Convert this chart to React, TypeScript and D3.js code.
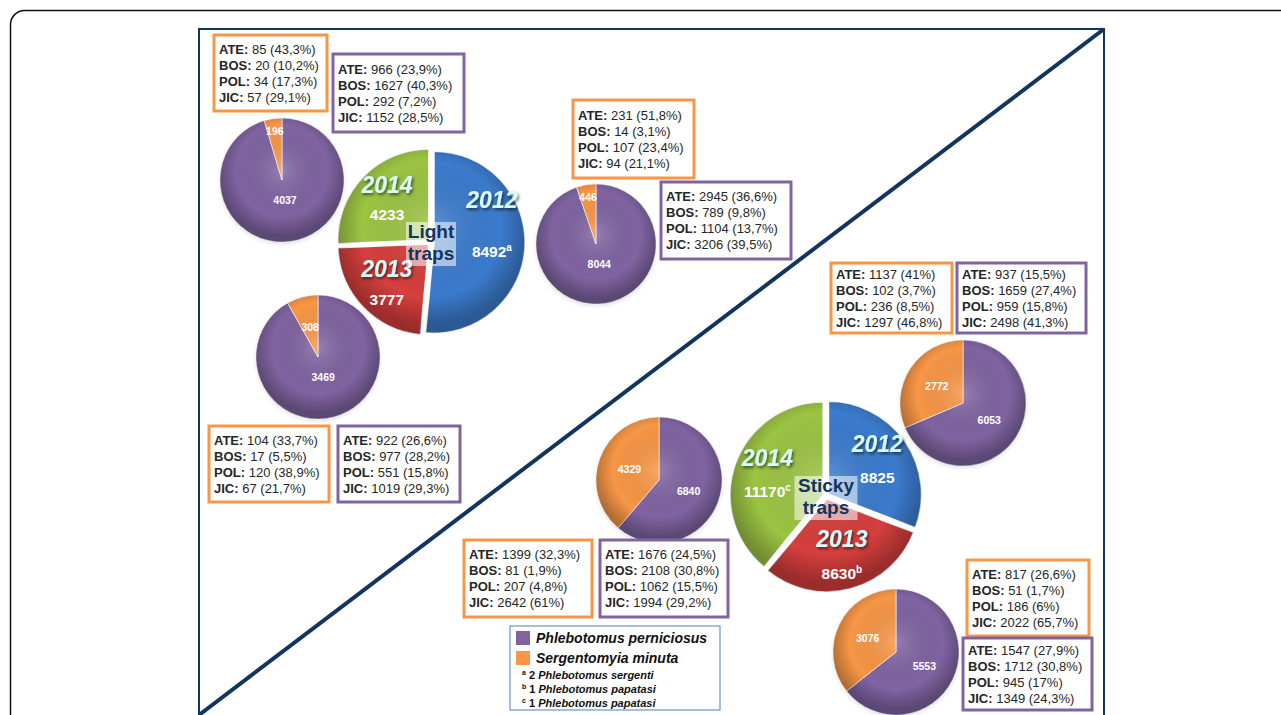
import React from 'react';
import * as d3 from 'd3';

const years = ['2012', '2013', '2014'];
const sites = ['ATE', 'BOS', 'POL', 'JIC'];

// totals per trap type (2012, 2013, 2014)
const lightTotals = [8492, 3777, 4233];
const lightNotes = ['a', '', ''];
const stickyTotals = [8825, 8630, 11170];
const stickyNotes = ['', 'b', 'c'];

// species split per year
const lightPerniciosus = [8044, 3469, 4037];
const lightMinuta = [446, 308, 196];
const stickyPerniciosus = [6053, 5553, 6840];
const stickyMinuta = [2772, 3076, 4329];

// per-site counts and shares per year
const lightMinutaSites = [[231, 14, 107, 94], [104, 17, 120, 67], [85, 20, 34, 57]];
const lightMinutaPct = [['51,8', '3,1', '23,4', '21,1'], ['33,7', '5,5', '38,9', '21,7'], ['43,3', '10,2', '17,3', '29,1']];
const lightPernSites = [[2945, 789, 1104, 3206], [922, 977, 551, 1019], [966, 1627, 292, 1152]];
const lightPernPct = [['36,6', '9,8', '13,7', '39,5'], ['26,6', '28,2', '15,8', '29,3'], ['23,9', '40,3', '7,2', '28,5']];
const stickyMinutaSites = [[1137, 102, 236, 1297], [817, 51, 186, 2022], [1399, 81, 207, 2642]];
const stickyMinutaPct = [['41', '3,7', '8,5', '46,8'], ['26,6', '1,7', '6', '65,7'], ['32,3', '1,9', '4,8', '61']];
const stickyPernSites = [[937, 1659, 959, 2498], [1547, 1712, 945, 1349], [1676, 2108, 1062, 1994]];
const stickyPernPct = [['15,5', '27,4', '15,8', '41,3'], ['27,9', '30,8', '17', '24,3'], ['24,5', '30,8', '15,5', '29,2']];

const speciesNames = ['Phlebotomus perniciosus', 'Sergentomyia minuta'];
const footnotes = [
  { mark: 'a', n: '2', name: 'Phlebotomus sergenti' },
  { mark: 'b', n: '1', name: 'Phlebotomus papatasi' },
  { mark: 'c', n: '1', name: 'Phlebotomus papatasi' },
];

const FONT = '"Liberation Sans", Arial, sans-serif';
const PURPLE = '#8064a2';
const ORANGE = '#f79646';
const yearColors = ['#3b7bcd', '#d63f3d', '#9cc443'];
const NAVY = '#12355f';

// layout
const lightMain = { cx: 431, cy: 242, r: 91, label: ['Light', 'traps'], boxW: 50, yearLift: [-30, 0, 0], valueLift: [-8, 0, 0], gap: 30 };
const stickyMain = { cx: 826, cy: 496, r: 93, label: ['Sticky', 'traps'], boxW: 63, yearLift: [0, 0, 0], valueLift: [0, 0, 0], gap: 34 };
const lightSmall = [{ cx: 596, cy: 244, r: 60 }, { cx: 318, cy: 357, r: 62 }, { cx: 282, cy: 180, r: 62 }];
const stickySmall = [{ cx: 963, cy: 403, r: 63 }, { cx: 896, cy: 652, r: 63 }, { cx: 659, cy: 480, r: 63 }];
const lightBoxes = [
  { o: [573, 100, 121, 78], p: [661, 182, 130, 77] },
  { o: [209, 426, 120, 76], p: [338, 426, 122, 76] },
  { o: [214, 35, 113, 76], p: [333, 54, 131, 78] },
];
const stickyBoxes = [
  { o: [831, 263, 121, 70], p: [957, 263, 129, 70] },
  { o: [967, 560, 122, 76], p: [963, 638, 129, 72] },
  { o: [464, 540, 128, 77], p: [600, 540, 128, 77] },
];

const pieGen = d3.pie<number>().sort(null).value((d) => d);

function Shade({ id, r }: { id: string; r: number }) {
  return (
    <radialGradient id={id} gradientUnits="userSpaceOnUse" cx={0} cy={-r * 0.15} r={r * 1.05}>
      <stop offset="0%" stopColor="#fff" stopOpacity={0.18} />
      <stop offset="70%" stopColor="#000" stopOpacity={0} />
      <stop offset="100%" stopColor="#000" stopOpacity={0.28} />
    </radialGradient>
  );
}

function SmallPie({ id, cx, cy, r, values }: { id: string; cx: number; cy: number; r: number; values: number[] }) {
  const arcs = pieGen(values);
  const arc = d3.arc<d3.PieArcDatum<number>>().innerRadius(0).outerRadius(r);
  const total = d3.sum(values);
  return (
    <g transform={`translate(${cx},${cy})`}>
      <defs>
        <Shade id={id} r={r} />
      </defs>
      <circle r={r} cy={2} fill="#000" opacity={0.12} filter="url(#blur)" />
      {arcs.map((a, i) => (
        <g key={i}>
          <path d={arc(a) || ''} fill={i === 0 ? PURPLE : ORANGE} stroke="#fff" strokeWidth={0.6} />
          <path d={arc(a) || ''} fill={`url(#${id})`} />
        </g>
      ))}
      {arcs.map((a, i) => {
        const f = a.data / total;
        const lr = f < 0.07 ? 0.8 : f > 0.9 ? 0.33 : 0.5;
        const lab = d3.arc<d3.PieArcDatum<number>>().innerRadius(r * lr).outerRadius(r * lr);
        const [x, y] = lab.centroid(a);
        return (
          <text key={i} x={x} y={y + 4} textAnchor="middle" fill="#fff" fontFamily={FONT} fontWeight="bold" fontSize={10.5}>
            {a.data}
          </text>
        );
      })}
    </g>
  );
}

function MainPie({ id, spec, totals, notes }: { id: string; spec: any; totals: number[]; notes: string[] }) {
  const { cx, cy, r } = spec;
  const arcs = pieGen(totals);
  const arc = d3.arc<d3.PieArcDatum<number>>().innerRadius(0).outerRadius(r);
  const explode = 3;
  return (
    <g transform={`translate(${cx},${cy})`}>
      <defs>
        <Shade id={id} r={r} />
      </defs>
      {arcs.map((a, i) => {
        const mid = (a.startAngle + a.endAngle) / 2;
        const dx = Math.sin(mid) * explode;
        const dy = -Math.cos(mid) * explode;
        return (
          <g key={i} transform={`translate(${dx},${dy})`}>
            <path d={arc(a) || ''} fill={yearColors[i]} stroke="#fff" strokeWidth={1.5} />
            <path d={arc(a) || ''} fill={`url(#${id})`} />
          </g>
        );
      })}
      {arcs.map((a, i) => {
        const mid = (a.startAngle + a.endAngle) / 2;
        const d = r * 0.67;
        const x = Math.sin(mid) * d;
        const y = -Math.cos(mid) * d;
        const half = spec.gap / 2;
        return (
          <g key={i} fontFamily={FONT} fontWeight="bold" textAnchor="middle">
            <text x={x} y={y - half + 8 + spec.yearLift[i]} fontSize={23} fontStyle="italic" fill="#d6fbfb" filter="url(#shadow)">
              {years[i]}
            </text>
            <text x={x} y={y + half + 5.5 + spec.valueLift[i]} fontSize={15.5} fill="#fff">
              {totals[i]}
              {notes[i] && (
                <tspan fontSize={10} dy={-6}>
                  {notes[i]}
                </tspan>
              )}
            </text>
          </g>
        );
      })}
      <rect x={-spec.boxW / 2} y={-20} width={spec.boxW} height={44} fill="#fff" opacity={0.55} />
      <g fontFamily={FONT} fontWeight="bold" fontSize={19} fill={NAVY} textAnchor="middle">
        <text y={-4}>{spec.label[0]}</text>
        <text y={18}>{spec.label[1]}</text>
      </g>
    </g>
  );
}

function SiteBox({ box, color, counts, pcts }: { box: number[]; color: string; counts: number[]; pcts: string[] }) {
  const [x, y, w, h] = box;
  const first = y + h / 2 - 24;
  return (
    <g>
      <rect x={x} y={y} width={w} height={h} fill="#fff" stroke={color} strokeWidth={3} />
      {sites.map((s, i) => (
        <text key={s} x={x + 5} y={first + i * 16 + 4.5} fontFamily={FONT} fontSize={13} fill="#262626">
          <tspan fontWeight="bold">{s}:</tspan> {counts[i]} ({pcts[i]}%)
        </text>
      ))}
    </g>
  );
}

function Legend() {
  const x = 510;
  const y = 626;
  return (
    <g fontFamily={FONT}>
      <rect x={x} y={y} width={210} height={84} fill="#fff" stroke="#4a7ebb" strokeWidth={1} />
      {speciesNames.map((s, i) => (
        <g key={s}>
          <rect x={x + 6} y={y + 5 + i * 20} width={14} height={14} fill={i === 0 ? PURPLE : ORANGE} />
          <text x={x + 26} y={y + 17 + i * 20} fontSize={14} fontWeight="bold" fontStyle="italic" fill="#111">
            {s}
          </text>
        </g>
      ))}
      {footnotes.map((f, i) => (
        <text key={i} x={x + 12} y={y + 53 + i * 14} fontSize={11} fontWeight="bold" fill="#111">
          <tspan fontSize={7} dy={-4}>{f.mark}</tspan>
          <tspan dy={4}> {f.n} </tspan>
          <tspan fontStyle="italic">{f.name}</tspan>
        </text>
      ))}
    </g>
  );
}

export default function App() {
  return (
    <svg width={1281} height={715} style={{ position: 'fixed', left: 0, top: 0, background: '#fff' }}>
      <defs>
        <filter id="shadow" x="-20%" y="-20%" width="140%" height="160%">
          <feDropShadow dx={1.5} dy={2} stdDeviation={1.5} floodColor="#000" floodOpacity={0.55} />
        </filter>
        <filter id="blur">
          <feGaussianBlur stdDeviation={2} />
        </filter>
      </defs>
      <rect x={10.5} y={10.5} width={1300} height={720} rx={14} fill="#fff" stroke="#111" strokeWidth={1.5} />
      <rect x={199} y={29} width={905} height={700} fill="#fff" stroke={NAVY} strokeWidth={2} />
      <line x1={1104} y1={29} x2={199} y2={715} stroke={NAVY} strokeWidth={4} />

      {lightSmall.map((p, i) => (
        <SmallPie key={`l${i}`} id={`ls${i}`} {...p} values={[lightPerniciosus[i], lightMinuta[i]]} />
      ))}
      {stickySmall.map((p, i) => (
        <SmallPie key={`s${i}`} id={`ss${i}`} {...p} values={[stickyPerniciosus[i], stickyMinuta[i]]} />
      ))}

      <MainPie id="lm" spec={lightMain} totals={lightTotals} notes={lightNotes} />
      <MainPie id="sm" spec={stickyMain} totals={stickyTotals} notes={stickyNotes} />

      {lightBoxes.map((b, i) => (
        <g key={`lb${i}`}>
          <SiteBox box={b.o} color={ORANGE} counts={lightMinutaSites[i]} pcts={lightMinutaPct[i]} />
          <SiteBox box={b.p} color={PURPLE} counts={lightPernSites[i]} pcts={lightPernPct[i]} />
        </g>
      ))}
      {stickyBoxes.map((b, i) => (
        <g key={`sb${i}`}>
          <SiteBox box={b.o} color={ORANGE} counts={stickyMinutaSites[i]} pcts={stickyMinutaPct[i]} />
          <SiteBox box={b.p} color={PURPLE} counts={stickyPernSites[i]} pcts={stickyPernPct[i]} />
        </g>
      ))}

      <Legend />
    </svg>
  );
}
